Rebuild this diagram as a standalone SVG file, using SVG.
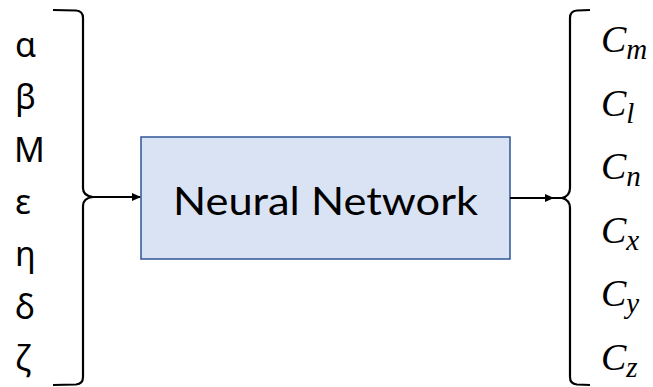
<svg xmlns="http://www.w3.org/2000/svg" width="653" height="387" viewBox="0 0 653 387">
<style>
.in{font-family:"Noto Sans","Open Sans",sans-serif;font-size:34px;fill:#000}
.c{font-family:"Liberation Serif","DejaVu Serif",serif;font-style:italic;font-size:38px;fill:#000}
.s{font-size:29px}
.brace{fill:none;stroke:#000;stroke-width:2.2}
.arr{fill:none;stroke:#000;stroke-width:2}
</style>
<defs>
<marker id="ah" markerWidth="9" markerHeight="8" refX="8" refY="4" orient="auto" markerUnits="userSpaceOnUse">
<path d="M0,0 L9,4 L0,8 Z" fill="#000"/>
</marker>
</defs>
<g id="inputs">
<text class="in" x="15" y="57">α</text>
<text class="in" x="15" y="109">β</text>
<text class="in" x="14" y="162">M</text>
<text class="in" x="15" y="214">ε</text>
<text class="in" x="15" y="266">η</text>
<text class="in" x="15" y="319">δ</text>
<text class="in" x="15" y="370">ζ</text>
<path class="brace" d="M53,10 L76,10.5 Q83,11 83,18 L83,188 Q83,196 93,197 Q83,198 83,206 L83,377 Q83,384 76,384.5 L53,385"/>
</g>
<g id="nn">
<rect x="141" y="137" width="369" height="122" fill="#dae3f3" stroke="#2f5597" stroke-width="1.5"/>
<text x="325.5" y="215" text-anchor="middle" textLength="305" lengthAdjust="spacingAndGlyphs" font-family="Lato,'Open Sans',sans-serif" font-size="38" fill="#000">Neural Network</text>
</g>
<g id="outputs">
<text class="c" x="601" y="52">C<tspan class="s" dy="7">m</tspan></text>
<text class="c" x="601" y="116">C<tspan class="s" dy="7">l</tspan></text>
<text class="c" x="601" y="179">C<tspan class="s" dy="7">n</tspan></text>
<text class="c" x="601" y="243">C<tspan class="s" dy="7">x</tspan></text>
<text class="c" x="601" y="306">C<tspan class="s" dy="7">y</tspan></text>
<text class="c" x="601" y="370">C<tspan class="s" dy="7">z</tspan></text>
<path class="brace" d="M590,10 L577,10.5 Q570,11 570,18 L570,188 Q570,196 562,198 Q570,200 570,208 L570,377 Q570,384 577,384.5 L590,385"/>
</g>
<g id="connectors">
<path class="arr" d="M93,197 L140,197" marker-end="url(#ah)"/>
<path class="arr" d="M510,198 L553,198" marker-end="url(#ah)"/>
<path class="arr" d="M550,198 L562,198"/>
</g>
</svg>
